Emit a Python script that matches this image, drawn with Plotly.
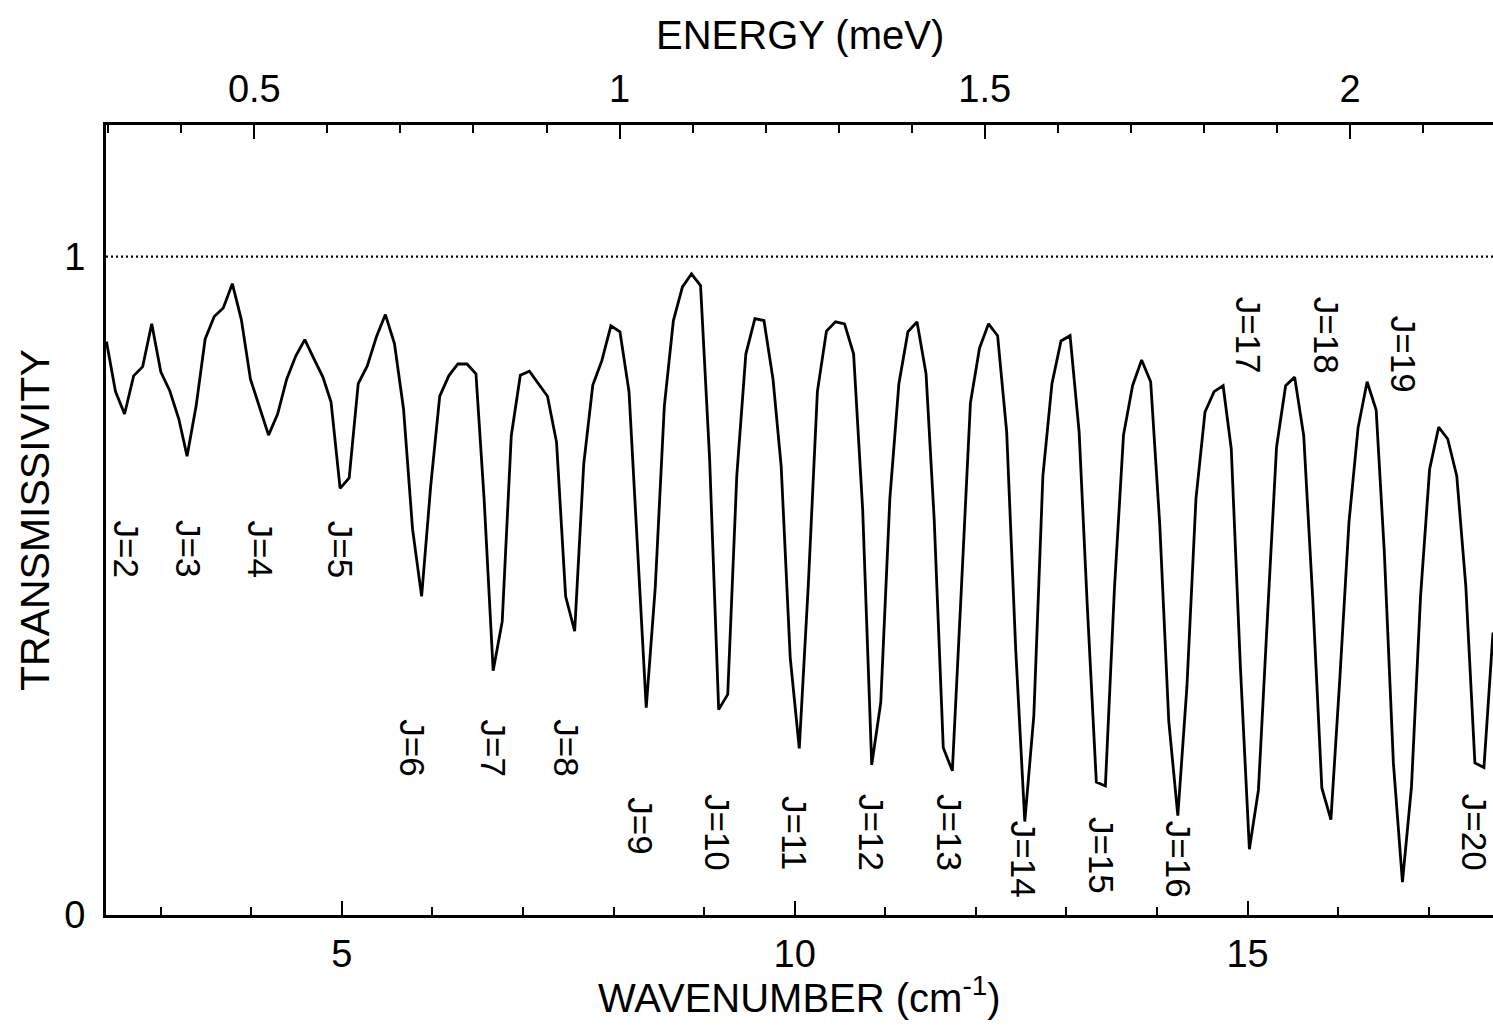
import plotly.graph_objects as go

# Wavenumber sampling positions (cm^-1)
wavenumber = [
    2.40, 2.50, 2.60, 2.70, 2.80, 2.90, 3.00, 3.10, 3.20, 3.29,
    3.39, 3.49, 3.59, 3.69, 3.79, 3.89, 3.99, 4.09, 4.19, 4.29,
    4.39, 4.49, 4.59, 4.69, 4.79, 4.88, 4.98, 5.08, 5.18, 5.28,
    5.38, 5.48, 5.58, 5.68, 5.78, 5.88, 5.98, 6.08, 6.18, 6.28,
    6.38, 6.48, 6.57, 6.67, 6.77, 6.87, 6.97, 7.07, 7.17, 7.27,
    7.37, 7.47, 7.57, 7.67, 7.77, 7.87, 7.97, 8.07, 8.17, 8.26,
    8.36, 8.46, 8.56, 8.66, 8.76, 8.86, 8.96, 9.06, 9.16, 9.26,
    9.36, 9.46, 9.56, 9.66, 9.76, 9.85, 9.95, 10.05, 10.15, 10.25,
    10.35, 10.45, 10.55, 10.65, 10.75, 10.85, 10.95, 11.05, 11.15, 11.25,
    11.35, 11.45, 11.54, 11.64, 11.74, 11.84, 11.94, 12.04, 12.14, 12.24,
    12.34, 12.44, 12.54, 12.64, 12.74, 12.84, 12.94, 13.04, 13.14, 13.23,
    13.33, 13.43, 13.53, 13.63, 13.73, 13.83, 13.93, 14.03, 14.13, 14.23,
    14.33, 14.43, 14.53, 14.63, 14.73, 14.82, 14.92, 15.02, 15.12, 15.22,
    15.32, 15.42, 15.52, 15.62, 15.72, 15.82, 15.92, 16.02, 16.12, 16.22,
    16.32, 16.42, 16.51, 16.61, 16.71, 16.81, 16.91, 17.01, 17.11, 17.21,
    17.31, 17.41, 17.51, 17.61, 17.71,
]

# Transmissivity values
transmissivity = [
    0.871, 0.795, 0.761, 0.819, 0.833, 0.898, 0.825, 0.796, 0.753, 0.697,
    0.773, 0.875, 0.909, 0.922, 0.959, 0.904, 0.814, 0.772, 0.729, 0.761,
    0.814, 0.849, 0.874, 0.845, 0.817, 0.779, 0.648, 0.664, 0.807, 0.834,
    0.878, 0.912, 0.868, 0.769, 0.586, 0.484, 0.651, 0.788, 0.819, 0.837,
    0.837, 0.822, 0.632, 0.371, 0.446, 0.728, 0.820, 0.826, 0.807, 0.788,
    0.718, 0.484, 0.431, 0.685, 0.805, 0.842, 0.895, 0.886, 0.795, 0.571,
    0.315, 0.498, 0.773, 0.903, 0.954, 0.974, 0.956, 0.693, 0.312, 0.335,
    0.667, 0.852, 0.906, 0.903, 0.814, 0.682, 0.391, 0.253, 0.502, 0.795,
    0.887, 0.901, 0.898, 0.852, 0.616, 0.228, 0.323, 0.632, 0.807, 0.886,
    0.901, 0.822, 0.600, 0.254, 0.219, 0.496, 0.778, 0.861, 0.898, 0.880,
    0.734, 0.403, 0.142, 0.303, 0.667, 0.807, 0.872, 0.880, 0.734, 0.470,
    0.202, 0.196, 0.496, 0.729, 0.804, 0.843, 0.810, 0.594, 0.294, 0.151,
    0.346, 0.632, 0.764, 0.795, 0.804, 0.708, 0.379, 0.100, 0.190, 0.454,
    0.711, 0.804, 0.817, 0.728, 0.479, 0.193, 0.145, 0.362, 0.597, 0.740,
    0.810, 0.767, 0.551, 0.231, 0.050, 0.195, 0.484, 0.677, 0.741, 0.723,
    0.667, 0.499, 0.231, 0.224, 0.429,
]

# J labels and where they sit (data coordinates)
j_labels = ["J=2", "J=3", "J=4", "J=5", "J=6", "J=7", "J=8", "J=9", "J=10",
            "J=11", "J=12", "J=13", "J=14", "J=15", "J=16", "J=17", "J=18",
            "J=19", "J=20"]
j_label_x = [2.62, 3.30, 4.10, 4.98, 5.78, 6.67, 7.48, 8.30, 9.15,
             10.00, 10.85, 11.71, 12.52, 13.38, 14.23, 15.02, 15.88,
             16.73, 17.50]
j_label_y = [0.556, 0.556, 0.556, 0.556, 0.254, 0.254, 0.254, 0.135, 0.125,
             0.125, 0.125, 0.125, 0.084, 0.090, 0.084, 0.881, 0.881,
             0.852, 0.125]

x_range = [2.395, 17.71]
y_range = [0.0, 1.2]
cm_to_mev = 0.123984
energy_range = [x_range[0] * cm_to_mev, x_range[1] * cm_to_mev]

FONT = "Liberation Sans"
TICK_SIZE = 38
LABEL_SIZE = 35
TITLE_SIZE = 40

fig = go.Figure()
fig.add_trace(go.Scatter(
    x=wavenumber, y=transmissivity, mode="lines",
    line=dict(color="black", width=2.8),
    showlegend=False, hoverinfo="skip",
))
# invisible trace to hold the energy axis
fig.add_trace(go.Scatter(
    x=energy_range, y=[0.5, 0.5], xaxis="x2", mode="lines",
    line=dict(color="rgba(0,0,0,0)", width=0),
    showlegend=False, hoverinfo="skip",
))

fig.add_shape(type="line", xref="paper", yref="y", x0=0, x1=1, y0=1, y1=1,
              line=dict(color="black", width=2.2, dash="2px,3px"))

for t, lx, ly in zip(j_labels, j_label_x, j_label_y):
    fig.add_annotation(x=lx, y=ly, xref="x", yref="y", text=t,
                       textangle=90, showarrow=False,
                       font=dict(family=FONT, size=LABEL_SIZE, color="black"))

fig.add_annotation(text="WAVENUMBER (cm<sup>-1</sup>)", xref="paper", yref="paper",
                   x=0.5, y=-0.101, showarrow=False, yanchor="middle",
                   font=dict(family=FONT, size=TITLE_SIZE, color="black"))
fig.add_annotation(text="ENERGY (meV)", xref="paper", yref="paper",
                   x=0.5, y=1.114, showarrow=False, yanchor="middle",
                   font=dict(family=FONT, size=TITLE_SIZE, color="black"))
fig.add_annotation(text="TRANSMISSIVITY", xref="paper", yref="paper",
                   x=-0.0512, y=0.5, showarrow=False, textangle=-90,
                   xanchor="center", yanchor="middle",
                   font=dict(family=FONT, size=41, color="black"))

fig.update_layout(
    width=1493, height=1029,
    margin=dict(l=106, r=0, t=125, b=114),
    plot_bgcolor="white", paper_bgcolor="white",
    font=dict(family=FONT, size=TICK_SIZE, color="black"),
    xaxis=dict(
        range=x_range, showgrid=False, zeroline=False,
        showline=True, linecolor="black", linewidth=3, mirror=False,
        tickmode="linear", tick0=0, dtick=5,
        ticks="inside", ticklen=14, tickwidth=2, tickcolor="black",
        minor=dict(dtick=1, tick0=0, ticks="inside", ticklen=8, tickwidth=2,
                   tickcolor="black", showgrid=False),
        tickfont=dict(family=FONT, size=TICK_SIZE, color="black"),
        ticklabelstandoff=3,
    ),
    xaxis2=dict(
        range=energy_range, overlaying="x", side="top", anchor="y",
        showgrid=False, zeroline=False,
        showline=True, linecolor="black", linewidth=3,
        tickmode="linear", tick0=0, dtick=0.5,
        ticks="inside", ticklen=14, tickwidth=2, tickcolor="black",
        minor=dict(dtick=0.1, tick0=0, ticks="inside", ticklen=8, tickwidth=2,
                   tickcolor="black", showgrid=False),
        tickfont=dict(family=FONT, size=TICK_SIZE, color="black"),
        ticklabelstandoff=5,
    ),
    yaxis=dict(
        range=y_range, showgrid=False, zeroline=False,
        showline=True, linecolor="black", linewidth=3,
        tickmode="array", tickvals=[0, 1], ticktext=["0", "1"],
        ticks="", tickfont=dict(family=FONT, size=TICK_SIZE, color="black"),
        ticklabelstandoff=10,
    ),
)

fig.write_html(
    "out.html",
    config={"displayModeBar": False},
    post_script="document.body.style.margin='0';document.body.style.overflow='hidden';",
)
